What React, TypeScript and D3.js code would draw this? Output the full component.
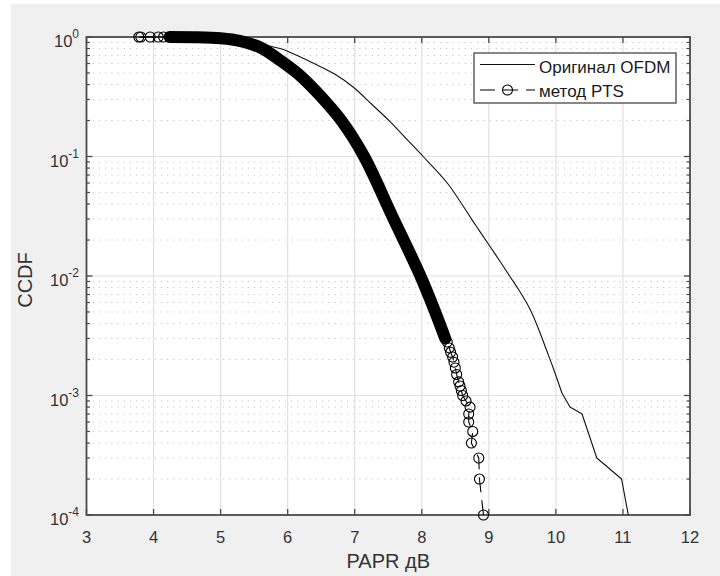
import React from 'react';
import * as d3 from 'd3';

// ---------- data ----------
const xTicks = [3, 4, 5, 6, 7, 8, 9, 10, 11, 12];
const yExponents = [0, -1, -2, -3, -4];

// Original OFDM CCDF (thin solid line)
const ofdmPapr = [3.8, 4.2, 4.6, 5.0, 5.3, 5.59, 5.89, 6.19, 6.38, 6.7, 6.98, 7.25, 7.53, 7.8, 8.02, 8.38, 8.75, 8.87, 9.1, 9.32, 9.45, 9.62, 9.75, 9.86, 9.96, 10.09, 10.21, 10.39, 10.61, 10.98, 11.08];
const ofdmCcdf = [1.0, 0.9995, 0.995, 0.975, 0.94, 0.87, 0.8, 0.68, 0.605, 0.49, 0.38, 0.275, 0.195, 0.135, 0.1, 0.06, 0.0295, 0.0234, 0.0151, 0.0098, 0.0076, 0.0052, 0.0035, 0.0024, 0.0017, 0.00105, 0.0008, 0.0007, 0.0003, 0.0002, 0.0001];

// PTS CCDF: sparse markers at the top
const ptsTopPapr = [3.78, 3.81, 3.95, 4.07, 4.15];
const ptsTopCcdf = [1.0, 1.0, 1.0, 1.0, 1.0];

// PTS CCDF: dense part (markers overlap into a solid band)
const ptsBandPapr = [4.24, 4.6, 5.0, 5.3, 5.6, 5.9, 6.2, 6.5, 6.8, 7.14, 7.56, 7.98, 8.2, 8.35];
const ptsBandCcdf = [1.0, 0.996, 0.975, 0.923, 0.813, 0.63, 0.468, 0.316, 0.2, 0.1, 0.0316, 0.01, 0.005, 0.003];

// PTS CCDF: sparse tail markers
const ptsTailPapr = [8.38, 8.41, 8.43, 8.46, 8.48, 8.5, 8.52, 8.55, 8.57, 8.59, 8.61, 8.66, 8.72, 8.7, 8.7, 8.76, 8.74, 8.85, 8.86, 8.92];
const ptsTailCcdf = [0.0028, 0.0025, 0.0023, 0.0021, 0.0019, 0.0017, 0.0015, 0.0013, 0.0012, 0.0011, 0.001, 0.0009, 0.0008, 0.0007, 0.0006, 0.0005, 0.0004, 0.0003, 0.0002, 0.0001];

const legendLabels = ['Оригинал OFDM', 'метод PTS'];
const xLabel = 'PAPR дB';
const yLabel = 'CCDF';

// ---------- layout ----------
const W = 720;
const H = 576;
const L = 86.5;
const R = 690;
const T = 37;
const B = 515;
const FONT = '"Liberation Sans", Arial, Helvetica, sans-serif';
const AX = '#4a4a4a';
const TXT = '#333333';

export default function App() {
  const x = d3.scaleLinear().domain([3, 12]).range([L, R]);
  const y = d3.scaleLog().domain([1e-4, 1]).range([B, T]);

  const minorVals: number[] = [];
  for (let e = -4; e < 0; e++) {
    for (let m = 2; m <= 9; m++) minorVals.push(m * Math.pow(10, e));
  }

  const line = d3
    .line<[number, number]>()
    .x((d) => x(d[0]))
    .y((d) => y(d[1]));
  const smooth = d3
    .line<[number, number]>()
    .x((d) => x(d[0]))
    .y((d) => y(d[1]))
    .curve(d3.curveCatmullRom);

  const ofdmPts: [number, number][] = ofdmPapr.map((v, i) => [v, ofdmCcdf[i]]);
  const splitAt = ofdmPapr.indexOf(10.09);
  const ofdmHead = ofdmPts.slice(0, splitAt + 1);
  const ofdmTail = ofdmPts.slice(splitAt);
  const topPts: [number, number][] = ptsTopPapr.map((v, i) => [v, ptsTopCcdf[i]]);
  const bandPts: [number, number][] = ptsBandPapr.map((v, i) => [v, ptsBandCcdf[i]]);
  const tailPts: [number, number][] = ptsTailPapr.map((v, i) => [v, ptsTailCcdf[i]]);
  const allPts = [...topPts, ...bandPts, ...tailPts];
  const markerPts = [...topPts, ...tailPts];

  const tickLen = 6;
  const minorLen = 3.5;

  return (
    <svg width={W} height={H} style={{ position: 'absolute', left: 0, top: 0, display: 'block' }}>
      <rect x={0} y={0} width={W} height={H} fill="#ffffff" />
      <rect x={11} y={4} width={W - 11} height={H - 4} fill="#f0f0f0" />
      <rect x={L} y={T} width={R - L} height={B - T} fill="#ffffff" />

      {/* minor grid */}
      {minorVals.map((v, i) => (
        <line key={'mg' + i} x1={L} x2={R} y1={y(v)} y2={y(v)} stroke="#c4c4c4" strokeWidth={1} strokeDasharray="1.2 5" />
      ))}
      {/* major grid */}
      {xTicks.slice(1, -1).map((t) => (
        <line key={'gx' + t} x1={x(t)} x2={x(t)} y1={T} y2={B} stroke="#e0e0e0" strokeWidth={1.2} />
      ))}
      {yExponents.slice(1, -1).map((e) => (
        <line key={'gy' + e} x1={L} x2={R} y1={y(Math.pow(10, e))} y2={y(Math.pow(10, e))} stroke="#e0e0e0" strokeWidth={1.2} />
      ))}

      {/* ticks */}
      {xTicks.map((t) => (
        <g key={'xt' + t}>
          <line x1={x(t)} x2={x(t)} y1={B} y2={B - tickLen} stroke={AX} strokeWidth={1.3} />
          <line x1={x(t)} x2={x(t)} y1={T} y2={T + tickLen} stroke={AX} strokeWidth={1.3} />
          <text x={x(t)} y={542.5} textAnchor="middle" fontFamily={FONT} fontSize={16.5} fill={TXT}>
            {t}
          </text>
        </g>
      ))}
      {yExponents.map((e) => (
        <g key={'yt' + e}>
          <line x1={L} x2={L + tickLen} y1={y(Math.pow(10, e))} y2={y(Math.pow(10, e))} stroke={AX} strokeWidth={1.3} />
          <line x1={R} x2={R - tickLen} y1={y(Math.pow(10, e))} y2={y(Math.pow(10, e))} stroke={AX} strokeWidth={1.3} />
          <text x={79} y={y(Math.pow(10, e)) + 10} textAnchor="end" fontFamily={FONT} fontSize={16.5} fill={TXT}>
            10
            <tspan dy={-9} fontSize={12}>
              {e}
            </tspan>
          </text>
        </g>
      ))}
      {minorVals.map((v, i) => (
        <g key={'mt' + i}>
          <line x1={L} x2={L + minorLen} y1={y(v)} y2={y(v)} stroke={AX} strokeWidth={1.2} />
          <line x1={R} x2={R - minorLen} y1={y(v)} y2={y(v)} stroke={AX} strokeWidth={1.2} />
        </g>
      ))}

      {/* box */}
      <rect x={L} y={T} width={R - L} height={B - T} fill="none" stroke={AX} strokeWidth={1.8} />

      {/* Original OFDM */}
      <path d={smooth(ofdmHead) || ''} fill="none" stroke="#111" strokeWidth={1.1} />
      <path d={line(ofdmTail) || ''} fill="none" stroke="#111" strokeWidth={1.1} strokeLinejoin="round" />

      {/* PTS */}
      <path d={smooth(bandPts) || ''} fill="none" stroke="#000" strokeWidth={12} strokeLinecap="round" strokeLinejoin="round" />
      <path d={line(allPts) || ''} fill="none" stroke="#000" strokeWidth={1.1} strokeDasharray="15 8" />
      {markerPts.map((d, i) => (
        <circle key={'pm' + i} cx={x(d[0])} cy={y(d[1])} r={5} fill="none" stroke="#000" strokeWidth={1.1} />
      ))}

      {/* legend */}
      <rect x={474} y={53} width={202} height={50} fill="#ffffff" stroke="#555" strokeWidth={1.4} />
      <line x1={480} x2={535} y1={64.5} y2={64.5} stroke="#111" strokeWidth={1.1} />
      <text x={539} y={73} fontFamily={FONT} fontSize={17} fill="#1a1a1a">
        {legendLabels[0]}
      </text>
      <line x1={480} x2={535} y1={90} y2={90} stroke="#000" strokeWidth={1.1} strokeDasharray="15 8" />
      <circle cx={507.5} cy={90} r={5} fill="none" stroke="#000" strokeWidth={1.1} />
      <text x={539} y={96.5} fontFamily={FONT} fontSize={17} fill="#1a1a1a">
        {legendLabels[1]}
      </text>

      {/* axis labels */}
      <text x={(L + R) / 2} y={567.5} textAnchor="middle" fontFamily={FONT} fontSize={20} fill={TXT}>
        {xLabel}
      </text>
      <text
        transform={`translate(32, ${(T + B) / 2 + 4}) rotate(-90)`}
        textAnchor="middle"
        fontFamily={FONT}
        fontSize={20}
        fill={TXT}
      >
        {yLabel}
      </text>
    </svg>
  );
}
